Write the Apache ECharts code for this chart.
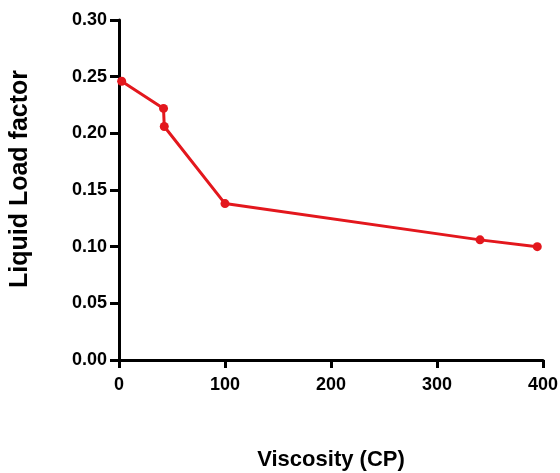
<!DOCTYPE html>
<html><head><meta charset="utf-8">
<script src="https://cdn.jsdelivr.net/npm/echarts@6/dist/echarts.min.js"></script>
<style>html,body{margin:0;padding:0;background:#fff}#c{width:560px;height:473px}</style>
</head><body><div id="c"></div>
<script>
var viscosity = [2.5, 42, 42.7, 100, 340.6, 394.6];
var loadFactor = [0.246, 0.222, 0.206, 0.138, 0.106, 0.100];
var xTitle = 'Viscosity (CP)';
var yTitle = 'Liquid Load factor';
var pts = viscosity.map(function(v,i){return [v, loadFactor[i]];});
var chart = echarts.init(document.getElementById('c'));
var font = 'Liberation Sans, Arial, Helvetica, sans-serif';
chart.setOption({
  animation:false,
  grid:{left:119,right:17,top:20,bottom:113,containLabel:false,outerBoundsMode:'none'},
  xAxis:{type:'value',min:0,max:400,interval:100,
    name:xTitle,nameLocation:'middle',nameGap:89,
    nameTextStyle:{fontFamily:font,fontWeight:'bold',fontSize:22,color:'#000'},
    axisLine:{lineStyle:{color:'#000',width:3}},
    axisTick:{show:true,inside:false,length:8,lineStyle:{color:'#000',width:3}},
    axisLabel:{fontFamily:font,fontWeight:'bold',fontSize:18,color:'#000',margin:16},
    splitLine:{show:false}},
  yAxis:{type:'value',min:0,max:0.30,interval:0.05,
    name:yTitle,nameLocation:'middle',nameGap:86,
    nameTextStyle:{fontFamily:font,fontWeight:'bold',fontSize:25,color:'#000',padding:[0,0,0,22]},
    axisLine:{show:true,lineStyle:{color:'#000',width:3}},
    axisTick:{show:true,inside:false,length:9,lineStyle:{color:'#000',width:3}},
    axisLabel:{fontFamily:font,fontWeight:'bold',fontSize:18,color:'#000',margin:12,
      formatter:function(v){return v.toFixed(2);}},
    splitLine:{show:false}},
  series:[{type:'line',data:pts,symbol:'circle',symbolSize:9,
    lineStyle:{color:'#e3171d',width:3},itemStyle:{color:'#e3171d'}}]
});
</script></body></html>
